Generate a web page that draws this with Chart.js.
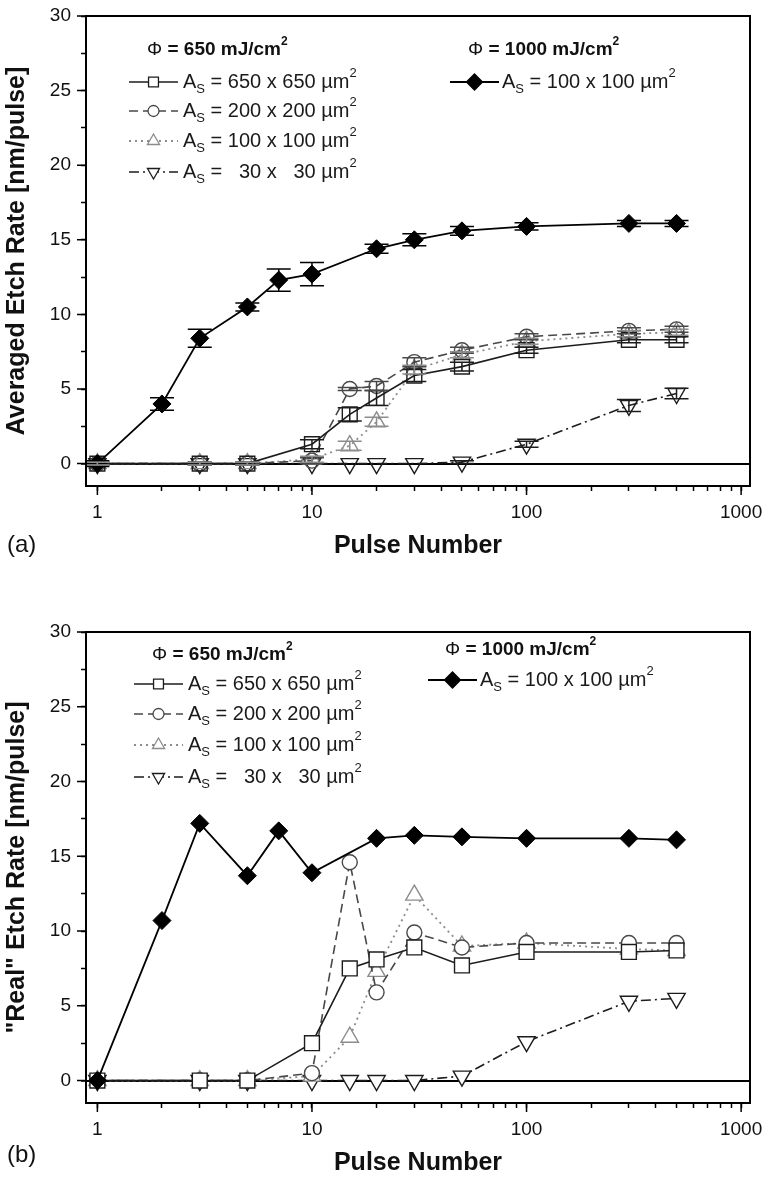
<!DOCTYPE html>
<html>
<head>
<meta charset="utf-8">
<script src="https://cdn.jsdelivr.net/npm/chart.js@4.4.0/dist/chart.umd.min.js"></script>
<style>
  html, body { margin: 0; padding: 0; background: #fff; }
  .panel { position: relative; width: 767px; height: 589px; }
</style>
</head>
<body>
<div class="panel"><canvas id="chartA"></canvas></div>
<div class="panel"><canvas id="chartB"></canvas></div>
<script>
// pulse numbers measured for each fluence
const pulses650 = [1, 3, 5, 10, 15, 20, 30, 50, 100, 300, 500];
const pulses1000 = [1, 2, 3, 5, 7, 10, 20, 30, 50, 100, 300, 500];

// (a) averaged etch rate [nm/pulse]
const avgSq650 = [0, 0, 0, 1.3, 3.3, 4.4, 5.9, 6.5, 7.6, 8.3, 8.3];
const avgCi200 = [0, 0, 0, 0.2, 5.0, 5.2, 6.8, 7.6, 8.5, 8.9, 9.0];
const avgTri100 = [0, 0, 0, 0.3, 1.2, 2.8, 6.3, 7.3, 8.2, 8.7, 8.8];
const avgInv30 = [0, 0, 0, 0, 0, 0, 0, 0.1, 1.3, 3.9, 4.7];
const avgDia1000 = [0, 4.0, 8.4, 10.5, 12.3, 12.7, 14.4, 15.0, 15.6, 15.9, 16.1, 16.1];

// (a) error bars
const errSq650 = [0.1, 0.1, 0.1, 0.3, 0.45, 0.5, 0.4, 0.3, 0.2, 0.2, 0.2];
const errCi200 = [0.1, 0.1, 0.1, 0.2, 0.1, 0.3, 0.3, 0.2, 0.2, 0.2, 0.2];
const errTri100 = [0.1, 0.1, 0.1, 0.2, 0.3, 0.3, 0.3, 0.2, 0.2, 0.2, 0.2];
const errInv30 = [0, 0, 0, 0, 0, 0, 0, 0.1, 0.2, 0.4, 0.35];
const errDia1000 = [0.2, 0.42, 0.6, 0.27, 0.75, 0.78, 0.3, 0.4, 0.3, 0.25, 0.2, 0.2];

// (b) "real" etch rate [nm/pulse]
const realSq650 = [0, 0, 0, 2.5, 7.5, 8.1, 8.9, 7.7, 8.6, 8.6, 8.7];
const realCi200 = [0, 0, 0, 0.5, 14.6, 5.9, 9.9, 8.9, 9.2, 9.2, 9.2];
const realTri100 = [0, 0, 0, 0.3, 2.9, 7.3, 12.4, 9.0, 9.2, 8.8, 8.7];
const realInv30 = [0, 0, 0, 0, 0, 0, 0, 0.3, 2.6, 5.3, 5.5];
const realDia1000 = [0, 10.7, 17.2, 13.7, 16.7, 13.9, 16.2, 16.4, 16.3, 16.2, 16.2, 16.1];

// ticks and labels
const xTickValues = [1, 2, 3, 4, 5, 6, 7, 8, 9, 10, 20, 30, 40, 50, 60, 70, 80, 90,
                     100, 200, 300, 400, 500, 600, 700, 800, 900, 1000];
const xMajorTicks = [1, 10, 100, 1000];
const yTickValues = [0, 2.5, 5, 7.5, 10, 12.5, 15, 17.5, 20, 22.5, 25, 27.5, 30];
const fluenceLabels = ['650', '1000'];
const sizeLabels = ['650 x 650', '200 x 200', '100 x 100', '  30 x   30'];
const diaSizeLabel = '100 x 100';

const FONT = "'Liberation Sans', Arial, sans-serif";
Chart.defaults.font.family = FONT;
Chart.defaults.color = '#111';

function toPoints(xs, ys) {
    return xs.map((x, i) => ({ x: x, y: ys[i] }));
}

function buildDatasets(v, e, fill) {
    return [
        { label: 'dia', data: toPoints(pulses1000, v.dia), errors: e ? e.dia : null,
          borderColor: '#000', backgroundColor: '#000', borderWidth: 1.8,
          pointStyle: 'rectRot', pointRadius: 9, pointBorderWidth: 1, legendRadius: 8 },
        { label: 'sq', data: toPoints(pulses650, v.sq), errors: e ? e.sq : null,
          borderColor: '#1c1c1c', backgroundColor: fill, borderWidth: 1.6,
          pointStyle: 'rect', pointRadius: 10.5, pointBorderWidth: 1.4, legendRadius: 7 },
        { label: 'ci', data: toPoints(pulses650, v.ci), errors: e ? e.ci : null,
          borderColor: '#484848', backgroundColor: fill, borderWidth: 1.6, borderDash: [9, 5],
          pointStyle: 'circle', pointRadius: 7.5, pointBorderWidth: 1.4, legendRadius: 5.5 },
        { label: 'tri', data: toPoints(pulses650, v.tri), errors: e ? e.tri : null,
          borderColor: '#8c8c8c', backgroundColor: fill, borderWidth: 1.8, borderDash: [2, 4],
          pointStyle: 'triangle', pointRadius: 10, pointBorderWidth: 1.4, legendRadius: 7 },
        { label: 'inv', data: toPoints(pulses650, v.inv), errors: e ? e.inv : null,
          borderColor: '#1c1c1c', backgroundColor: fill, borderWidth: 1.6, borderDash: [10, 4, 2, 4],
          pointStyle: 'triangle', pointRotation: 180, pointRadius: 10, pointBorderWidth: 1.4, legendRadius: 7 }
    ];
}

// text with sub/superscripts, left aligned, textBaseline middle
function drawRich(ctx, parts, x, y) {
    parts.forEach(p => {
        ctx.font = p.font;
        ctx.fillText(p.t, x, y + (p.dy || 0));
        x += ctx.measureText(p.t).width;
    });
}

function drawHeader(ctx, fluence, x, y) {
    drawRich(ctx, [
        { t: '\u03A6', font: '19px ' + FONT },
        { t: ' = ' + fluence + ' mJ/cm', font: 'bold 19px ' + FONT },
        { t: '2', font: 'bold 12px ' + FONT, dy: -8 }
    ], x, y);
}

function drawRow(ctx, ds, size, x, y, lineLen, textGap) {
    ctx.save();
    ctx.strokeStyle = ds.borderColor;
    ctx.lineWidth = ds.borderWidth;
    ctx.setLineDash(ds.borderDash || []);
    ctx.beginPath();
    ctx.moveTo(x, y);
    ctx.lineTo(x + lineLen, y);
    ctx.stroke();
    ctx.setLineDash([]);
    ctx.fillStyle = ds.pointStyle === 'rectRot' ? '#000' : '#fff';
    ctx.lineWidth = 1.3;
    Chart.helpers.drawPoint(ctx, {
        pointStyle: ds.pointStyle, radius: ds.legendRadius,
        rotation: ds.pointRotation || 0, borderWidth: 1.3
    }, x + lineLen / 2, y);
    ctx.restore();
    ctx.fillStyle = '#1a1a1a';
    drawRich(ctx, [
        { t: 'A', font: '20px ' + FONT },
        { t: 'S', font: '13px ' + FONT, dy: 7 },
        { t: ' = ' + size + ' \u00B5m', font: '20px ' + FONT },
        { t: '2', font: '13px ' + FONT, dy: -9 }
    ], x + lineLen + textGap, y);
}

const legendPlugin = {
    id: 'etchLegend',
    afterDraw(chart, args, opts) {
        const ctx = chart.ctx;
        const ds = chart.data.datasets;
        ctx.save();
        ctx.textBaseline = 'middle';
        ctx.textAlign = 'left';
        ctx.fillStyle = '#111';
        drawHeader(ctx, fluenceLabels[0], opts.left.hx, opts.left.hy);
        drawHeader(ctx, fluenceLabels[1], opts.right.hx, opts.right.hy);
        for (let i = 0; i < 4; i++) {
            drawRow(ctx, ds[i + 1], sizeLabels[i], opts.left.lx, opts.left.rows[i], 49, 5);
        }
        drawRow(ctx, ds[0], diaSizeLabel, opts.right.lx, opts.right.rows[0], 49, 3);
        ctx.restore();
    }
};

const errorBarPlugin = {
    id: 'errorBars',
    afterDatasetsDraw(chart) {
        const ctx = chart.ctx;
        const yScale = chart.scales.y;
        ctx.save();
        chart.data.datasets.forEach((ds, i) => {
            if (!ds.errors) return;
            const meta = chart.getDatasetMeta(i);
            ctx.strokeStyle = ds.borderColor;
            ctx.lineWidth = 1.5;
            meta.data.forEach((pt, j) => {
                const err = ds.errors[j];
                if (!err) return;
                const v = ds.data[j].y;
                const yTop = yScale.getPixelForValue(v + err);
                const yBot = yScale.getPixelForValue(v - err);
                ctx.beginPath();
                ctx.moveTo(pt.x, yTop); ctx.lineTo(pt.x, yBot);
                ctx.moveTo(pt.x - 12, yTop); ctx.lineTo(pt.x + 12, yTop);
                ctx.moveTo(pt.x - 12, yBot); ctx.lineTo(pt.x + 12, yBot);
                ctx.stroke();
            });
        });
        ctx.restore();
    }
};

const framePlugin = {
    id: 'frame',
    afterDraw(chart, args, opts) {
        const { ctx, chartArea: a, scales } = chart;
        ctx.save();
        ctx.strokeStyle = '#000';
        ctx.lineWidth = 2;
        ctx.strokeRect(a.left, a.top, a.right - a.left, a.bottom - a.top);
        ctx.lineWidth = 1.5;
        ctx.beginPath();
        yTickValues.filter(v => v % 5 === 0).forEach(v => {
            const y = scales.y.getPixelForValue(v);
            ctx.moveTo(a.left - 9, y); ctx.lineTo(a.left, y);
        });
        xMajorTicks.forEach(v => {
            const x = scales.x.getPixelForValue(v);
            ctx.moveTo(x, a.bottom); ctx.lineTo(x, a.bottom + 9);
        });
        ctx.stroke();
        ctx.font = '24px ' + FONT;
        ctx.fillStyle = '#111';
        ctx.textBaseline = 'middle';
        ctx.textAlign = 'left';
        ctx.fillText(opts.tag, 7, opts.tagY);
        ctx.restore();
    }
};

function makeChart(canvasId, datasets, yTitle, lay) {
    const ctx = document.getElementById(canvasId).getContext('2d');
    return new Chart(ctx, {
        type: 'line',
        data: { datasets: datasets },
        plugins: [errorBarPlugin, framePlugin, legendPlugin],
        options: {
            responsive: true,
            maintainAspectRatio: false,
            animation: false,
            layout: { padding: { left: 0, right: 17, top: lay.top, bottom: 0 } },
            plugins: {
                legend: { display: false },
                tooltip: { enabled: false },
                frame: { tag: lay.tag, tagY: lay.tagY },
                etchLegend: lay.legend
            },
            scales: {
                x: {
                    type: 'logarithmic',
                    min: 0.885,
                    max: 1100,
                    afterBuildTicks: s => { s.ticks = xTickValues.map(v => ({ value: v })); },
                    afterFit: s => {
                        s.height = lay.xHeight;
                        s.paddingLeft = 0;
                        s.paddingRight = 0;
                    },
                    border: { display: false },
                    grid: { drawOnChartArea: false, tickLength: 5, tickColor: '#000', tickWidth: 1.5 },
                    ticks: {
                        autoSkip: false, maxRotation: 0, padding: 10,
                        font: { size: 19 }, color: '#111',
                        callback: v => xMajorTicks.includes(v) ? String(v) : ''
                    },
                    title: {
                        display: true, text: 'Pulse Number', color: '#111',
                        font: { size: 25, weight: 'bold' },
                        padding: { top: 0, bottom: lay.xTitlePad }
                    }
                },
                y: {
                    min: -1.5,
                    max: 30,
                    afterBuildTicks: s => { s.ticks = yTickValues.map(v => ({ value: v })); },
                    afterFit: s => {
                        s.width = 86;
                        s.paddingTop = 0;
                        s.paddingBottom = 0;
                    },
                    border: { display: false },
                    grid: {
                        color: c => (c.tick && c.tick.value === 0) ? '#000' : 'rgba(0,0,0,0)',
                        lineWidth: c => (c.tick && c.tick.value === 0) ? 2 : 1,
                        tickLength: 5, tickColor: '#000', tickWidth: 1.5
                    },
                    ticks: {
                        autoSkip: false, padding: 10,
                        font: { size: 19 }, color: '#111',
                        callback: v => v % 5 === 0 ? String(v) : ''
                    },
                    title: {
                        display: true, text: yTitle, color: '#111',
                        font: { size: 25, weight: 'bold' },
                        padding: { top: 2, bottom: 0 }
                    }
                }
            }
        }
    });
}

document.addEventListener('DOMContentLoaded', () => {
    makeChart('chartA',
        buildDatasets(
            { sq: avgSq650, ci: avgCi200, tri: avgTri100, inv: avgInv30, dia: avgDia1000 },
            { sq: errSq650, ci: errCi200, tri: errTri100, inv: errInv30, dia: errDia1000 },
            'rgba(255,255,255,0)'),
        'Averaged Etch Rate [nm/pulse]',
        {
            top: 16, xHeight: 103, xTitlePad: 28, tag: '(a)', tagY: 545,
            legend: {
                left: { hx: 147, hy: 50, lx: 129, rows: [82, 111, 141, 172] },
                right: { hx: 468, hy: 50, lx: 450, rows: [82] }
            }
        });

    makeChart('chartB',
        buildDatasets(
            { sq: realSq650, ci: realCi200, tri: realTri100, inv: realInv30, dia: realDia1000 },
            null,
            '#fff'),
        '"Real" Etch Rate [nm/pulse]',
        {
            top: 43, xHeight: 75, xTitlePad: 0, tag: '(b)', tagY: 566,
            legend: {
                left: { hx: 152, hy: 66, lx: 134, rows: [95, 125, 156, 188] },
                right: { hx: 445, hy: 61, lx: 428, rows: [91] }
            }
        });
});
</script>
</body>
</html>
